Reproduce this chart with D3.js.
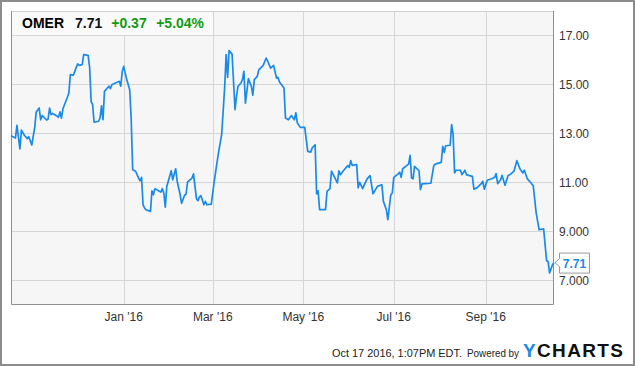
<!DOCTYPE html>
<html>
<head>
<meta charset="utf-8">
<script src="https://cdn.jsdelivr.net/npm/d3@7"></script>
<style>
body { margin: 0; background: #fff; }
svg { display: block; font-family: "Liberation Sans", Arial, sans-serif; }
</style>
</head>
<body>
<div class="chart"></div>
<script>
// OMER daily close
const dates = [
  "2015-10-17","2015-10-20","2015-10-21","2015-10-23","2015-10-24","2015-10-26","2015-10-28","2015-10-29","2015-10-31",
  "2015-11-02","2015-11-03","2015-11-05","2015-11-06","2015-11-07","2015-11-10","2015-11-11","2015-11-12","2015-11-13",
  "2015-11-14","2015-11-17","2015-11-18","2015-11-19","2015-11-20","2015-11-21","2015-11-24","2015-11-25","2015-11-26",
  "2015-11-28","2015-11-30","2015-12-01","2015-12-02","2015-12-04","2015-12-05","2015-12-08","2015-12-09","2015-12-10",
  "2015-12-11","2015-12-12","2015-12-15","2015-12-16","2015-12-17","2015-12-18","2015-12-19","2015-12-22","2015-12-23",
  "2015-12-24","2015-12-26","2015-12-29","2015-12-30","2015-12-31","2016-01-01","2016-01-03","2016-01-05","2016-01-06",
  "2016-01-07","2016-01-09","2016-01-11","2016-01-12","2016-01-13","2016-01-14","2016-01-15","2016-01-16","2016-01-19",
  "2016-01-20","2016-01-21","2016-01-22","2016-01-25","2016-01-26","2016-01-27","2016-01-28","2016-01-29","2016-01-30",
  "2016-02-02","2016-02-03","2016-02-05","2016-02-06","2016-02-08","2016-02-09","2016-02-11","2016-02-12","2016-02-13",
  "2016-02-16","2016-02-17","2016-02-19","2016-02-20","2016-02-21","2016-02-22","2016-02-24","2016-02-25","2016-02-26",
  "2016-02-29","2016-03-02","2016-03-03","2016-03-05","2016-03-07","2016-03-09","2016-03-10","2016-03-11","2016-03-12",
  "2016-03-14","2016-03-16","2016-03-17","2016-03-18","2016-03-20","2016-03-21","2016-03-22","2016-03-23","2016-03-25",
  "2016-03-27","2016-03-28","2016-03-29","2016-03-31","2016-04-01","2016-04-04","2016-04-06","2016-04-07","2016-04-09",
  "2016-04-11","2016-04-13","2016-04-14","2016-04-15","2016-04-18","2016-04-19","2016-04-21","2016-04-23","2016-04-25",
  "2016-04-26","2016-04-27","2016-04-29","2016-05-02","2016-05-04","2016-05-06","2016-05-07","2016-05-09","2016-05-10",
  "2016-05-11","2016-05-12","2016-05-16","2016-05-17","2016-05-19","2016-05-20","2016-05-24","2016-05-25","2016-05-26",
  "2016-05-28","2016-05-31","2016-06-01","2016-06-02","2016-06-03","2016-06-06","2016-06-07","2016-06-08","2016-06-10",
  "2016-06-13","2016-06-15","2016-06-17","2016-06-20","2016-06-23","2016-06-24","2016-06-26","2016-06-27","2016-06-29",
  "2016-06-30","2016-07-01","2016-07-04","2016-07-05","2016-07-06","2016-07-07","2016-07-09","2016-07-11","2016-07-12",
  "2016-07-13","2016-07-14","2016-07-15","2016-07-18","2016-07-19","2016-07-20","2016-07-26","2016-07-28","2016-07-29",
  "2016-08-02","2016-08-03","2016-08-04","2016-08-05","2016-08-08","2016-08-09","2016-08-10","2016-08-11","2016-08-12",
  "2016-08-15","2016-08-16","2016-08-18","2016-08-19","2016-08-21","2016-08-23","2016-08-24","2016-08-26","2016-08-29",
  "2016-08-30","2016-08-31","2016-09-02","2016-09-05","2016-09-07","2016-09-08","2016-09-09","2016-09-11","2016-09-12",
  "2016-09-14","2016-09-16","2016-09-18","2016-09-20","2016-09-22","2016-09-24","2016-09-26","2016-09-27","2016-09-29",
  "2016-10-01","2016-10-03","2016-10-05","2016-10-07","2016-10-10","2016-10-12","2016-10-13","2016-10-14","2016-10-16",
  "2016-10-17"
];
const closes = [
  12.89, 12.80, 13.31, 12.35, 13.12, 12.91, 12.77, 12.85, 12.51,
  13.23, 13.86, 14.02, 13.54, 13.71, 13.53, 13.57, 14.02, 13.75,
  13.80, 13.69, 13.64, 13.86, 13.61, 13.99, 14.46, 14.63, 15.38,
  15.36, 15.68, 15.82, 15.76, 15.79, 16.20, 16.17, 15.68, 14.29,
  14.16, 13.44, 13.48, 13.61, 14.11, 13.54, 14.70, 14.91, 14.81,
  14.97, 15.03, 15.11, 14.91, 15.52, 15.72, 15.18, 14.77, 13.61,
  11.50, 11.44, 11.16, 11.05, 11.19, 10.07, 9.94, 9.87, 9.80,
  10.64, 10.48, 10.73, 10.62, 10.59, 10.73, 10.55, 9.97, 10.82,
  11.46, 11.09, 11.54, 11.03, 10.48, 10.13, 10.46, 10.51, 11.00,
  11.16, 11.33, 10.32, 10.24, 10.38, 10.44, 10.07, 10.21, 10.07,
  10.10, 11.03, 11.44, 12.25, 12.93, 14.84, 16.20, 15.27, 16.36,
  16.22, 13.95, 14.50, 14.91, 15.04, 15.18, 15.52, 14.22, 15.22,
  14.91, 14.54, 15.18, 15.31, 15.58, 15.76, 16.06, 15.93, 15.65,
  15.76, 15.24, 15.27, 15.08, 14.84, 13.61, 13.54, 13.71, 13.54,
  13.82, 13.41, 13.23, 13.23, 12.25, 12.22, 12.39, 12.52, 10.51,
  10.64, 9.87, 9.87, 10.62, 10.73, 11.44, 10.96, 11.46, 11.30,
  11.46, 11.67, 11.60, 11.87, 11.68, 11.71, 10.76, 10.99, 10.73,
  11.13, 11.26, 10.52, 10.82, 10.89, 10.21, 9.87, 9.46, 10.48,
  10.55, 11.19, 11.33, 11.40, 11.19, 11.54, 11.64, 11.73, 12.09,
  11.16, 11.13, 11.64, 11.46, 10.69, 10.92, 10.95, 11.68, 11.73,
  11.80, 12.46, 12.21, 12.48, 12.50, 13.34, 12.93, 11.37, 11.48,
  11.48, 11.30, 11.48, 11.30, 11.26, 11.23, 10.71, 10.76, 10.93,
  11.03, 10.71, 11.07, 11.13, 11.19, 11.34, 10.93, 11.09, 11.27,
  10.87, 11.26, 11.33, 11.44, 11.87, 11.54, 11.37, 11.48, 11.13,
  11.00, 10.85, 9.73, 9.05, 9.09, 7.79, 7.76, 7.29, 7.62,
  7.71
];
const yTicks = [7, 9, 11, 13, 15, 17];
const yLabels = ["7.000", "9.000", "11.00", "13.00", "15.00", "17.00"];
const xTicks = ["2016-01-01", "2016-03-01", "2016-05-01", "2016-07-01", "2016-09-01"];
const xRange = ["2015-10-17", "2016-10-17"];
const ticker = "OMER", lastPrice = "7.71", change = "+0.37", changePct = "+5.04%";
const stamp = "Oct 17 2016, 1:07PM EDT.";

const W = 635, H = 366;
const pL = 11, pR = 554, pT = 11, pB = 305;
const blue = "#1a8ae8";

const parse = d3.utcParse("%Y-%m-%d");
const data = dates.map((d, i) => ({ date: parse(d), v: closes[i] }));

const x = d3.scaleUtc().domain(xRange.map(parse)).range([pL, pR]);
const y = d3.scaleLinear().domain([7, 17]).range([280, 35]);

const svg = d3.select(".chart").append("svg")
    .attr("width", W)
    .attr("height", H);

// outer frame
svg.append("rect")
    .attr("x", 1).attr("y", 1)
    .attr("width", W - 2).attr("height", H - 2)
    .attr("fill", "#fff")
    .attr("stroke", "#8c8c8c")
    .attr("stroke-width", 2);

// plot background
svg.append("rect")
    .attr("x", pL).attr("y", pT)
    .attr("width", pR - pL).attr("height", pB - pT)
    .attr("fill", "#f6f6f6");

// grid
svg.append("g").selectAll("line")
    .data(yTicks).enter().append("line")
    .attr("x1", pL).attr("x2", pR)
    .attr("y1", d => Math.round(y(d)) + 0.5).attr("y2", d => Math.round(y(d)) + 0.5)
    .attr("stroke", "#d6d6d6");

svg.append("g").selectAll("line")
    .data(xTicks).enter().append("line")
    .attr("x1", d => Math.round(x(parse(d))) + 0.5).attr("x2", d => Math.round(x(parse(d))) + 0.5)
    .attr("y1", pT).attr("y2", pB)
    .attr("stroke", "#d6d6d6");

// header box over the grid
svg.append("rect")
    .attr("x", pL).attr("y", pT)
    .attr("width", Math.round(x(parse(xTicks[1]))) - pL).attr("height", Math.round(y(17)) - pT)
    .attr("fill", "#fafafa");

const head = svg.append("text")
    .attr("x", 22).attr("y", 28)
    .attr("font-weight", "bold")
    .style("font-size", "14px");
head.append("tspan").attr("fill", "#000").text(ticker);
head.append("tspan").attr("dx", 11).attr("fill", "#111").text(lastPrice);
head.append("tspan").attr("dx", 9).attr("fill", "#139a13").text(change);
head.append("tspan").attr("dx", 9.5).attr("fill", "#139a13").text(changePct);

// frame lines of the plot
svg.append("line").attr("x1", pL).attr("x2", pR).attr("y1", pT + 0.5).attr("y2", pT + 0.5)
    .attr("stroke", "#cfcfcf");
svg.append("path")
    .attr("d", `M${pL + 0.5},${pT}V${pB - 0.5}H${pR - 0.5}V${pT}`)
    .attr("fill", "none")
    .attr("stroke", "#8f8f8f");

// price line
const line = d3.line().x(d => x(d.date)).y(d => y(d.v));
svg.append("path")
    .datum(data)
    .attr("d", line)
    .attr("fill", "none")
    .attr("stroke", blue)
    .attr("stroke-width", 1.7)
    .attr("stroke-linejoin", "round");

// y labels
svg.append("g").selectAll("text")
    .data(yTicks).enter().append("text")
    .attr("x", 559)
    .attr("y", d => y(d) + 4.5)
    .attr("fill", "#333")
    .style("font-size", "12px")
    .text((d, i) => yLabels[i]);

// x labels
svg.append("g").selectAll("text")
    .data(xTicks).enter().append("text")
    .attr("x", d => x(parse(d)))
    .attr("y", 321)
    .attr("text-anchor", "middle")
    .attr("fill", "#333")
    .style("font-size", "12px")
    .text(d => d3.utcFormat("%b '%y")(parse(d)));

// last price flag
const lastY = y(closes[closes.length - 1]);
svg.append("path")
    .attr("d", `M${pR + 1},${lastY} L559.5,${lastY - 4} V${lastY - 9.5} H589.5 V${lastY + 10.5} H559.5 V${lastY + 4} Z`)
    .attr("fill", "#fff")
    .attr("stroke", "#9a9a9a");
svg.append("text")
    .attr("x", 574.5).attr("y", lastY + 5)
    .attr("text-anchor", "middle")
    .attr("font-weight", "bold")
    .attr("fill", blue)
    .style("font-size", "12px")
    .text(lastPrice);

// footer
svg.append("text")
    .attr("x", 332).attr("y", 356.5)
    .attr("fill", "#222")
    .attr("textLength", 130)
    .attr("lengthAdjust", "spacingAndGlyphs")
    .style("font-size", "11px")
    .text(stamp);
svg.append("text")
    .attr("x", 467).attr("y", 356.5)
    .attr("fill", "#222")
    .attr("textLength", 52)
    .attr("lengthAdjust", "spacingAndGlyphs")
    .style("font-size", "11px")
    .text("Powered by");
const logo = svg.append("text")
    .attr("x", 523).attr("y", 356.5)
    .attr("font-weight", "bold")
    .attr("textLength", 100)
    .attr("lengthAdjust", "spacing")
    .style("font-size", "19px");
logo.append("tspan").attr("fill", blue).text("Y");
logo.append("tspan").attr("fill", "#111").text("CHARTS");
</script>
</body>
</html>
